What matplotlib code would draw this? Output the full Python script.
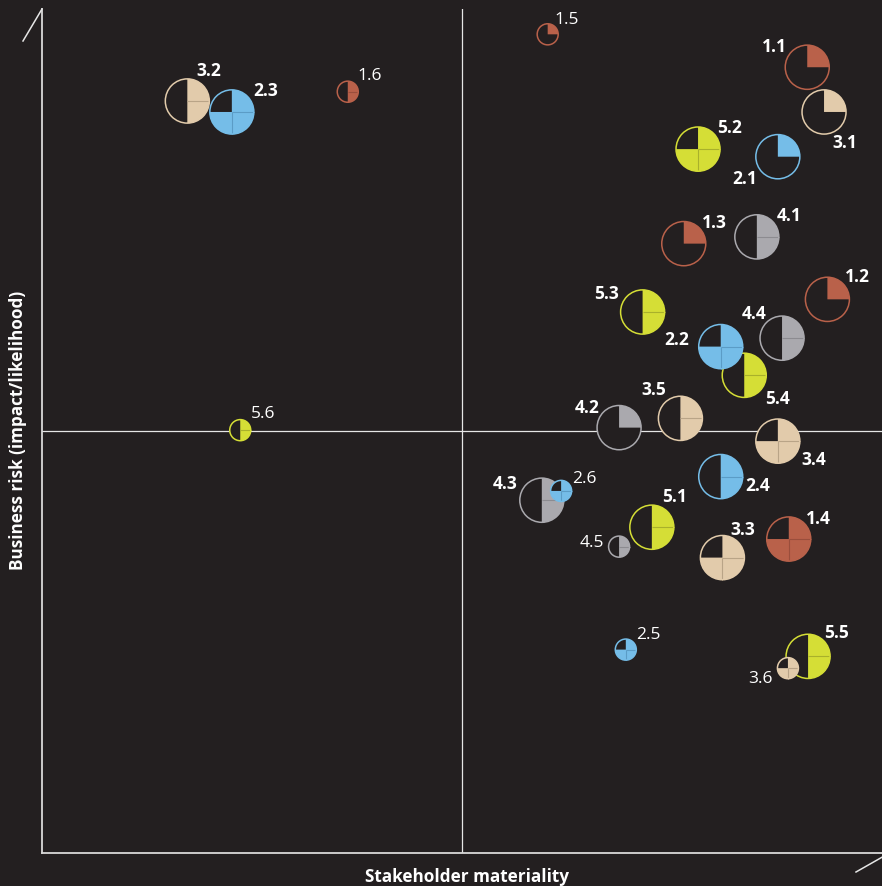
import matplotlib.pyplot as plt
from matplotlib.lines import Line2D
from matplotlib.patches import Circle, Wedge

# issues: label, stakeholder materiality (x), business risk (y),
# weight (1 = minor, 2 = major), quarters of the circle that are filled
labels = ["1.5", "1.1", "1.6", "3.2", "2.3", "3.1", "5.2", "2.1", "1.3", "4.1",
          "1.2", "5.3", "4.4", "5.4", "2.2", "5.6", "4.2", "3.5", "3.4", "2.4",
          "4.3", "2.6", "5.1", "4.5", "3.3", "1.4", "2.5", "5.5", "3.6"]
materiality = [6.02, 9.11, 3.64, 1.73, 2.26, 9.31, 7.81, 8.76, 7.64, 8.51,
               9.35, 7.15, 8.81, 8.36, 8.08, 2.36, 6.87, 7.60, 8.76, 8.08,
               5.95, 6.18, 7.26, 6.87, 8.10, 8.89, 6.95, 9.12, 8.88]
risk = [9.70, 9.31, 9.02, 8.91, 8.78, 8.78, 8.34, 8.25, 7.22, 7.30,
        6.56, 6.41, 6.10, 5.66, 6.00, 5.01, 5.04, 5.15, 4.88, 4.46,
        4.18, 4.29, 3.86, 3.63, 3.50, 3.72, 2.41, 2.33, 2.19]
weight = [1, 2, 1, 2, 2, 2, 2, 2, 2, 2,
          2, 2, 2, 2, 2, 1, 2, 2, 2, 2,
          2, 1, 2, 1, 2, 2, 1, 2, 1]
quarters = [1, 1, 2, 2, 3, 1, 3, 1, 1, 2,
            1, 2, 2, 2, 3, 2, 1, 2, 3, 2,
            2, 3, 2, 2, 3, 3, 3, 2, 3]

BG = "#231f20"
# theme colour (first digit of the label): fill, inner cross
theme_colors = {
    "1": ("#b9614a", "#9a4e3c"),
    "2": ("#75bde8", "#5b9cc6"),
    "3": ("#e2cbab", "#b9a487"),
    "4": ("#aaa9ae", "#8c8b90"),
    "5": ("#d5de36", "#a9b12b"),
}
radius = {1: 0.125, 2: 0.262}

# label offsets in pixels from the circle centre
label_offsets = {
    "1.5": (19, 16), "1.1": (-33, 22), "1.6": (22, 18), "3.2": (21, 32),
    "2.3": (34, 23), "3.1": (21, -29), "5.2": (31, 23), "2.1": (-33, -20),
    "1.3": (31, 23), "4.1": (32, 23), "1.2": (30, 24), "5.3": (-36, 20),
    "4.4": (-28, 26), "5.4": (33, -22), "2.2": (-44, 9), "5.6": (23, 18),
    "4.2": (-32, 22), "3.5": (-27, 30), "3.4": (36, -17), "2.4": (37, -7),
    "4.3": (-37, 18), "2.6": (23, 14), "5.1": (23, 32), "4.5": (-27, 6),
    "3.3": (20, 30), "1.4": (30, 22), "2.5": (23, 17), "5.5": (28, 25),
    "3.6": (-27, -9),
}

plt.rcParams["font.family"] = ["Open Sans", "DejaVu Sans"]

fig = plt.figure(figsize=(8.82, 8.86), dpi=100, facecolor=BG)
ax = fig.add_axes([42 / 882, 33 / 886, 840 / 882, 844 / 886])
ax.set_facecolor(BG)
ax.set_xlim(0, 10)
ax.set_ylim(0, 10)
ax.set_xticks([])
ax.set_yticks([])
for side in ("top", "right"):
    ax.spines[side].set_visible(False)
for side in ("left", "bottom"):
    ax.spines[side].set_color("#d9d9d9")
    ax.spines[side].set_linewidth(1.3)

# quadrant dividers
ax.axvline(5, color="#e6e6e6", lw=0.9, zorder=1)
ax.axhline(5, color="#e6e6e6", lw=0.9, zorder=1)

for i, (lab, x, y, w, q) in enumerate(zip(labels, materiality, risk, weight, quarters)):
    fill, cross = theme_colors[lab[0]]
    r = radius[w]
    z = 3 + i * 0.01
    ax.add_patch(Circle((x, y), r, facecolor=BG, edgecolor="none", zorder=z))
    # filled share, clockwise from twelve o'clock
    t1 = 90 - 90 * q
    ax.add_patch(Wedge((x, y), r, t1, 90, facecolor=fill, edgecolor="none", zorder=z))
    for ang in (-180, -90, 0):
        if t1 < ang < 90:
            dx = {-180: -r, -90: 0, 0: r}[ang]
            dy = {-180: 0, -90: -r, 0: 0}[ang]
            ax.plot([x, x + dx], [y, y + dy], color=cross, lw=0.8,
                    solid_capstyle="butt", zorder=z)
    ax.add_patch(Circle((x, y), r, facecolor="none", edgecolor=fill, lw=1.1, zorder=z))
    ox, oy = label_offsets[lab]
    ax.annotate(lab, (x, y), xytext=(ox, oy - 2), textcoords="offset pixels",
                ha="center", va="center", color="white", fontsize=12.5,
                fontweight="bold" if w == 2 else "normal", zorder=10)

# axis break marks
fig.add_artist(Line2D([23 / 882, 42 / 882], [1 - 41 / 886, 1 - 9 / 886],
                      color="#e6e6e6", lw=1.1))
fig.add_artist(Line2D([856 / 882, 900 / 882], [1 - 872 / 886, 1 - 847 / 886],
                      color="#e6e6e6", lw=1.1))

fig.text(467 / 882, 1 - 877 / 886, "Stakeholder materiality", color="white",
         fontsize=12.3, fontweight="bold", ha="center", va="center")
fig.text(18 / 882, 1 - 430 / 886, "Business risk (impact/likelihood)", color="white",
         fontsize=12.3, fontweight="bold", ha="center", va="center", rotation=90)

fig.savefig("out.png", dpi=100, facecolor=BG)
